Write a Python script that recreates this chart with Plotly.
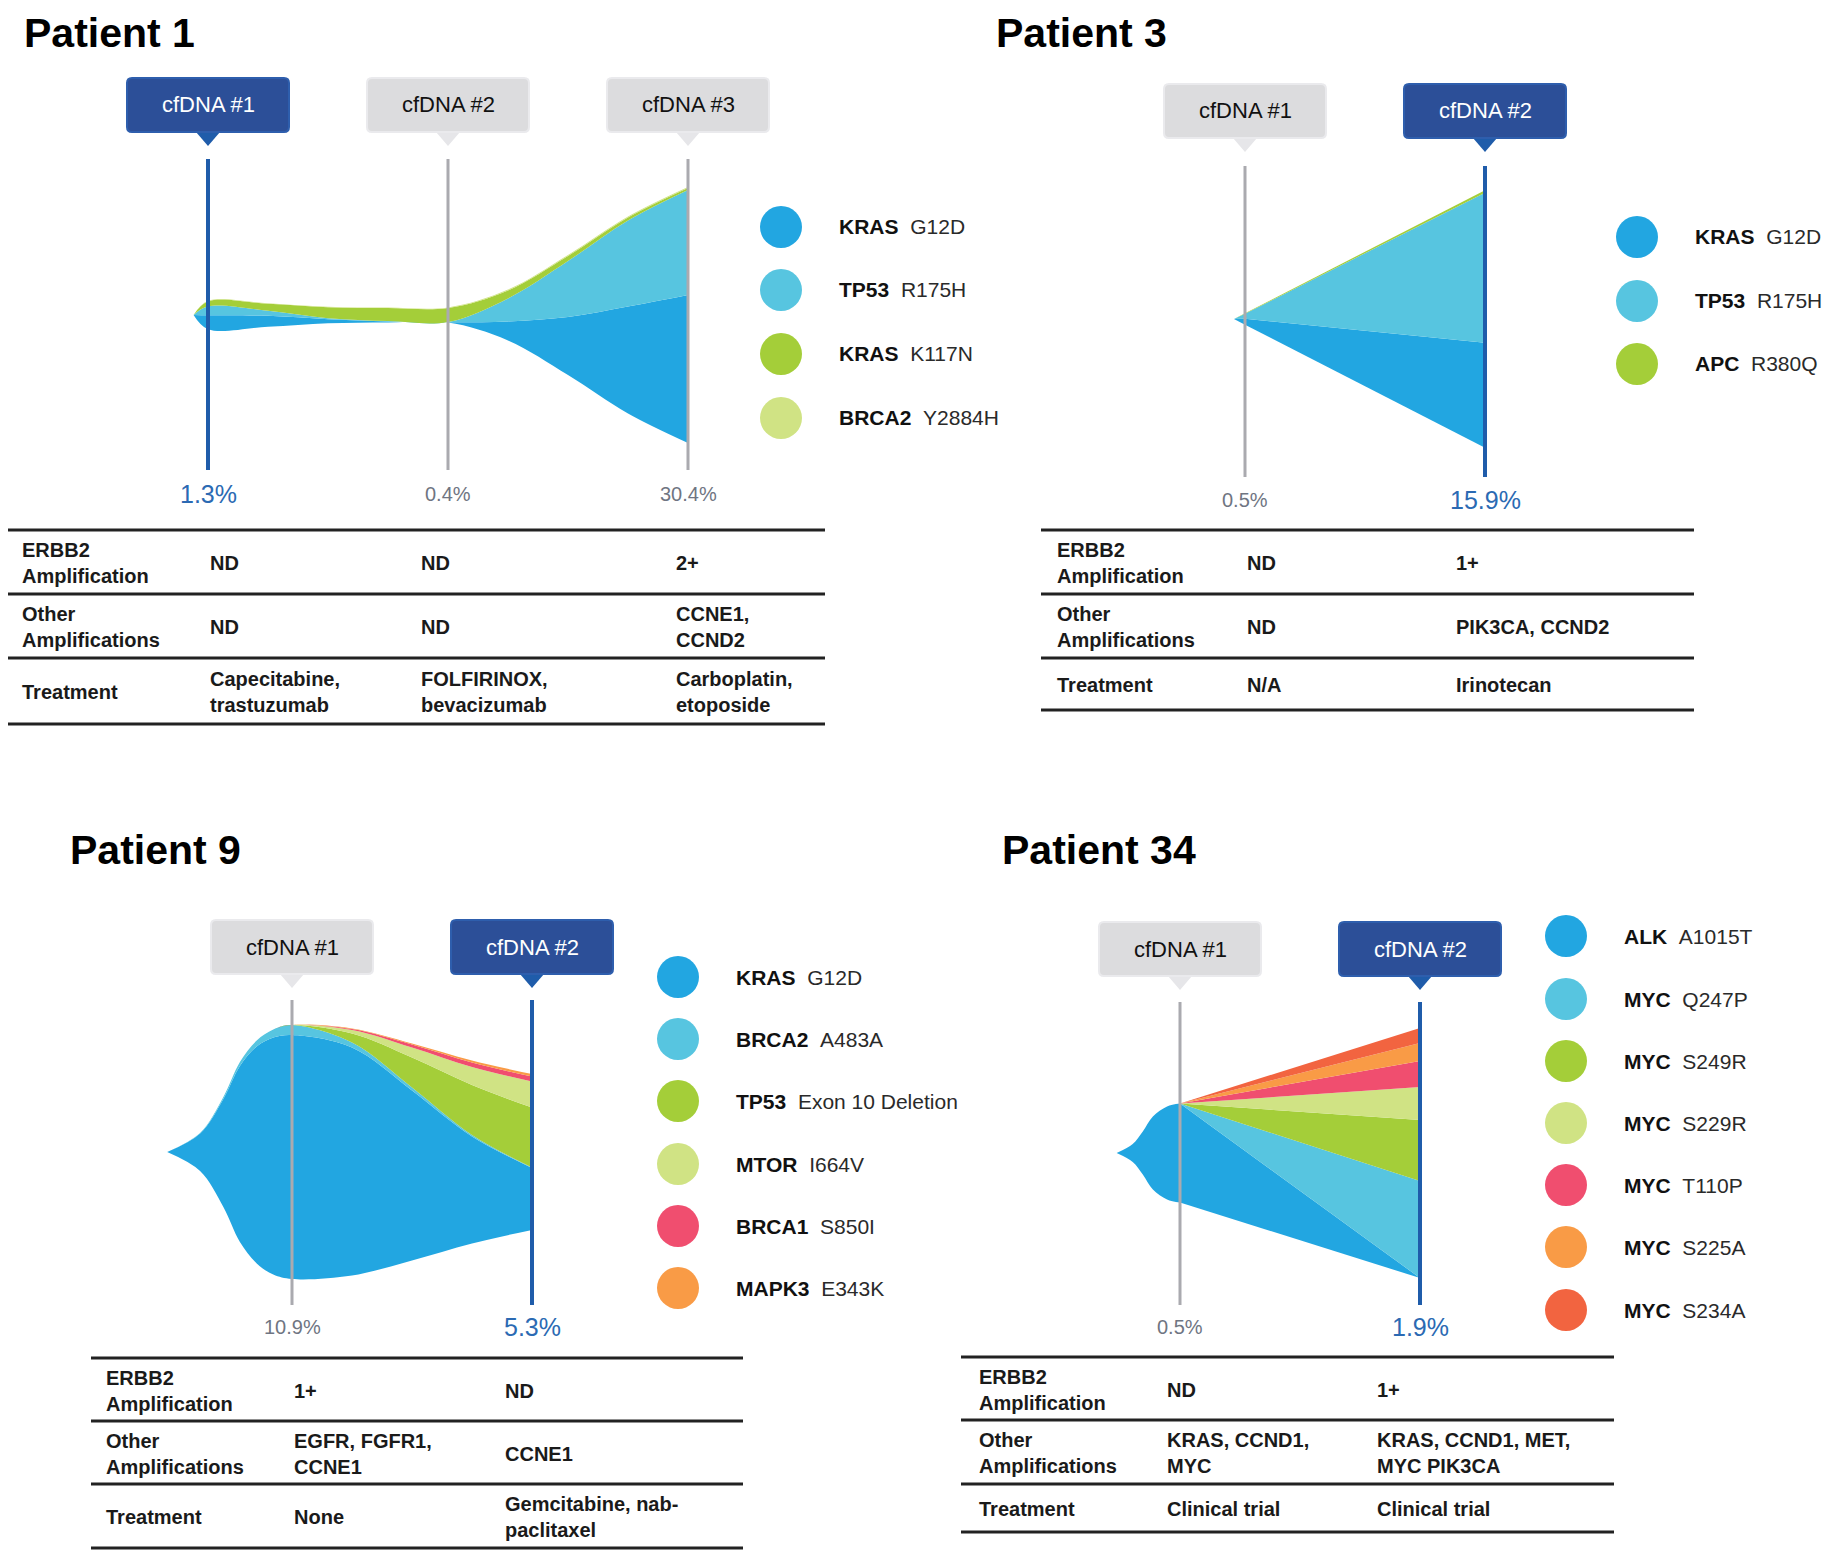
import plotly.graph_objects as go

W, H = 1834, 1553
PAGE = 8  # the html page puts the figure 8 px in from the top-left corner
FIG_W, FIG_H = W - PAGE, H - PAGE
STEP = 240  # pixels between two cfDNA draws
FONT = "Liberation Sans, Arial, Helvetica, sans-serif"

BLUE = "#22A6E1"
LBLUE = "#57C5E0"
GREEN = "#A4CE39"
LGREEN = "#D0E384"
PINK = "#F04E6F"
ORANGE = "#F99B46"
RED = "#F26440"
NAVY = "#2C4F98"
NAVY_EDGE = "#2E5EAD"
NAVY_LINE = "#1F5CAA"
GREY_BOX = "#DCDCDE"
GREY_EDGE = "#EAEAED"
GREY_LINE = "#AAAAAF"
PCT_BLUE = "#2B6AB3"
PCT_GREY = "#6F7582"
INK = "#1A1A1A"

ROW_LABELS = ["ERBB2<br>Amplification", "Other<br>Amplifications", "Treatment"]

# ---------------- Patient 1 ----------------
# band thickness at sample positions (1 unit = one draw)
P1_SAMPLES = [-0.06, 0, 0.25, 0.5, 0.75, 1, 1.25, 1.5, 1.75, 2]
P1_KRAS_G12D = [0, 14, 11, 4, 1, 0.3, 19, 58, 107, 148]
P1_TP53_R175H = [0, 9, 5, 1, 0.3, 0.2, 23, 56, 86, 105]
P1_KRAS_K117N = [0, 5, 7, 11, 13, 14, 8, 5, 3, 2]
P1_BRCA2_Y2884H = [0, 0.6, 0.6, 0.5, 0.5, 0.5, 0.8, 1, 1, 1]
P1_GENES = ["KRAS", "TP53", "KRAS", "BRCA2"]
P1_MUTS = ["G12D", "R175H", "K117N", "Y2884H"]
P1_DRAWS = ["cfDNA #1", "cfDNA #2", "cfDNA #3"]
P1_PCT = ["1.3%", "0.4%", "30.4%"]
P1_ERBB2 = ["ND", "ND", "2+"]
P1_OTHER = ["ND", "ND", "CCNE1,<br>CCND2"]
P1_TREAT = ["Capecitabine,<br>trastuzumab", "FOLFIRINOX,<br>bevacizumab", "Carboplatin,<br>etoposide"]

# ---------------- Patient 3 ----------------
P3_SAMPLES = [-0.046, 0, 1]
P3_KRAS_G12D = [0, 6, 105]
P3_TP53_R175H = [0, 5, 150]
P3_APC_R380Q = [0, 0.5, 2.5]
P3_GENES = ["KRAS", "TP53", "APC"]
P3_MUTS = ["G12D", "R175H", "R380Q"]
P3_DRAWS = ["cfDNA #1", "cfDNA #2"]
P3_PCT = ["0.5%", "15.9%"]
P3_ERBB2 = ["ND", "1+"]
P3_OTHER = ["ND", "PIK3CA, CCND2"]
P3_TREAT = ["N/A", "Irinotecan"]

# ---------------- Patient 9 ----------------
P9_SAMPLES = [-0.52, -0.383, -0.286, -0.217, -0.147, -0.078, 0, 0.25, 0.5, 0.75, 1]
P9_KRAS_G12D = [0, 37.5, 108, 176, 217, 237, 244, 228, 170, 107, 62]
P9_BRCA2_A483A = [0, 0.5, 2, 4, 6, 8, 10, 5, 3, 1.5, 0.3]
P9_TP53_EX10 = [0, 0, 0, 0, 0, 0, 0, 9, 30, 50, 60]
P9_MTOR_I664V = [0, 0, 0, 0, 0, 0, 0, 3.5, 10, 18, 26]
P9_BRCA1_S850I = [0, 0, 0, 0, 0, 0, 0, 1, 3, 4.5, 5]
P9_MAPK3_E343K = [0, 0, 0, 0, 0, 0, 0, 0.5, 1, 2, 2.5]
P9_GENES = ["KRAS", "BRCA2", "TP53", "MTOR", "BRCA1", "MAPK3"]
P9_MUTS = ["G12D", "A483A", "Exon 10 Deletion", "I664V", "S850I", "E343K"]
P9_DRAWS = ["cfDNA #1", "cfDNA #2"]
P9_PCT = ["10.9%", "5.3%"]
P9_ERBB2 = ["1+", "ND"]
P9_OTHER = ["EGFR, FGFR1,<br>CCNE1", "CCNE1"]
P9_TREAT = ["None", "Gemcitabine, nab-<br>paclitaxel"]

# ---------------- Patient 34 ----------------
P34_SAMPLES = [-0.264, -0.197, -0.155, -0.113, -0.054, 0, 1]
P34_ALK_A1015T = [0, 18, 43, 73, 93, 99, 0]
P34_MYC_Q247P = [0, 0, 0, 0, 0, 0, 97]
P34_MYC_S249R = [0, 0, 0, 0, 0, 0, 61]
P34_MYC_S229R = [0, 0, 0, 0, 0, 0, 33]
P34_MYC_T110P = [0, 0, 0, 0, 0, 0, 26]
P34_MYC_S225A = [0, 0, 0, 0, 0, 0, 18]
P34_MYC_S234A = [0, 0, 0, 0, 0, 0, 15]
P34_GENES = ["ALK", "MYC", "MYC", "MYC", "MYC", "MYC", "MYC"]
P34_MUTS = ["A1015T", "Q247P", "S249R", "S229R", "T110P", "S225A", "S234A"]
P34_DRAWS = ["cfDNA #1", "cfDNA #2"]
P34_PCT = ["0.5%", "1.9%"]
P34_ERBB2 = ["ND", "1+"]
P34_OTHER = ["KRAS, CCND1,<br>MYC", "KRAS, CCND1, MET,<br>MYC PIK3CA"]
P34_TREAT = ["Clinical trial", "Clinical trial"]


panels = [
    dict(title="Patient 1", title_xy=(22, 8, "top"),
         samples=P1_SAMPLES,
         bands=[P1_KRAS_G12D, P1_TP53_R175H, P1_KRAS_K117N, P1_BRCA2_Y2884H],
         colors=[BLUE, LBLUE, GREEN, LGREEN], genes=P1_GENES, muts=P1_MUTS,
         draws=P1_DRAWS, pct=P1_PCT, active=0, linear_from=None,
         t0=208, cy=315, box_y=105, line_y=(159, 470), pct_y=494,
         legend_x=781, legend_y=[227, 290, 354, 418],
         area=(PAGE, 917, 55, 520),
         table=dict(x=(6, 825), lines=[530, 594, 658, 724], label_x=20,
                    col_x=[208, 419, 674], cells=[P1_ERBB2, P1_OTHER, P1_TREAT])),
    dict(title="Patient 3", title_xy=(994, 8, "top"),
         samples=P3_SAMPLES,
         bands=[P3_KRAS_G12D, P3_TP53_R175H, P3_APC_R380Q],
         colors=[BLUE, LBLUE, GREEN], genes=P3_GENES, muts=P3_MUTS,
         draws=P3_DRAWS, pct=P3_PCT, active=1, linear_from=0,
         t0=1245, cy=319, box_y=111, line_y=(166, 477), pct_y=500,
         legend_x=1637, legend_y=[237, 301, 364],
         area=(1000, W - 10, 55, 520),
         table=dict(x=(1041, 1694), lines=[530, 594, 658, 710], label_x=1055,
                    col_x=[1245, 1454], cells=[P3_ERBB2, P3_OTHER, P3_TREAT])),
    dict(title="Patient 9", title_xy=(68, 850, "middle"),
         samples=P9_SAMPLES,
         bands=[P9_KRAS_G12D, P9_BRCA2_A483A, P9_TP53_EX10, P9_MTOR_I664V,
                P9_BRCA1_S850I, P9_MAPK3_E343K],
         colors=[BLUE, LBLUE, GREEN, LGREEN, PINK, ORANGE], genes=P9_GENES, muts=P9_MUTS,
         draws=P9_DRAWS, pct=P9_PCT, active=1, linear_from=None,
         t0=292, cy=1152, box_y=947, line_y=(1000, 1305), pct_y=1327,
         legend_x=678, legend_y=[977, 1039, 1101, 1164, 1226, 1288],
         area=(60, 917, 900, 1345),
         table=dict(x=(91, 743), lines=[1358, 1421, 1484, 1548], label_x=104,
                    col_x=[292, 503], cells=[P9_ERBB2, P9_OTHER, P9_TREAT])),
    dict(title="Patient 34", title_xy=(1000, 850, "middle"),
         samples=P34_SAMPLES,
         bands=[P34_ALK_A1015T, P34_MYC_Q247P, P34_MYC_S249R, P34_MYC_S229R,
                P34_MYC_T110P, P34_MYC_S225A, P34_MYC_S234A],
         colors=[BLUE, LBLUE, GREEN, LGREEN, PINK, ORANGE, RED], genes=P34_GENES, muts=P34_MUTS,
         draws=P34_DRAWS, pct=P34_PCT, active=1, linear_from=5,
         t0=1180, cy=1153, box_y=949, line_y=(1002, 1305), pct_y=1327,
         legend_x=1566, legend_y=[936, 999, 1061, 1123, 1185, 1247, 1310],
         area=(1000, W - 10, 900, 1345),
         table=dict(x=(961, 1614), lines=[1357, 1420, 1484, 1532], label_x=977,
                    col_x=[1165, 1375], cells=[P34_ERBB2, P34_OTHER, P34_TREAT])),
]


def px(x):
    return (x - PAGE) / FIG_W


def py(y):
    return 1 - (y - PAGE) / FIG_H


def rounded_box(w, h, r):
    a, b = w / 2, h / 2
    return (f"M {-a + r},{b} L {a - r},{b} Q {a},{b} {a},{b - r} "
            f"L {a},{-b + r} Q {a},{-b} {a - r},{-b} L {-a + r},{-b} "
            f"Q {-a},{-b} {-a},{-b + r} L {-a},{b - r} Q {-a},{b} {-a + r},{b} Z")


def stream_traces(p, xa, ya):
    xs = p["samples"]
    bands = p["bands"]
    n = len(xs)
    total = [sum(b[i] for b in bands) for i in range(n)]
    edges = [[-t / 2 for t in total]]
    for b in bands:
        edges.append([e + v for e, v in zip(edges[-1], b)])
    k = p["linear_from"]
    if k is None:
        parts = [(0, n, "spline")]
    elif k == 0:
        parts = [(0, n, "linear")]
    else:
        parts = [(0, k + 1, "spline"), (k, n, "linear")]
    out = []
    for lo, hi, shape in parts:
        for j, edge in enumerate(edges):
            out.append(go.Scatter(
                x=xs[lo:hi], y=edge[lo:hi], mode="lines",
                line=dict(width=0, shape=shape, smoothing=1.0),
                fill="tonexty" if j else "none",
                fillcolor=p["colors"][j - 1] if j else None,
                xaxis=xa, yaxis=ya, hoverinfo="skip", showlegend=False))
    return out


fig = go.Figure()
shapes, annotations = [], []
BOX_W, BOX_H = 162, 54

for i, p in enumerate(panels, start=1):
    xa = "x" if i == 1 else f"x{i}"
    ya = "y" if i == 1 else f"y{i}"
    t0, cy = p["t0"], p["cy"]
    L, R, T, B = p["area"]

    def dx(v, t0=t0):
        return (v - t0) / STEP

    def dy(v, cy=cy):
        return cy - v

    fig.update_layout(**{
        ("xaxis" if i == 1 else f"xaxis{i}"): dict(
            domain=[px(L), px(R)], range=[dx(L), dx(R)], visible=False,
            fixedrange=True, anchor=ya),
        ("yaxis" if i == 1 else f"yaxis{i}"): dict(
            domain=[py(B), py(T)], range=[dy(B), dy(T)], visible=False,
            fixedrange=True, anchor=xa),
    })

    for tr in stream_traces(p, xa, ya):
        fig.add_trace(tr)

    # legend dots
    fig.add_trace(go.Scatter(
        x=[dx(p["legend_x"])] * len(p["genes"]), y=[dy(v) for v in p["legend_y"]],
        mode="markers", marker=dict(size=42, color=p["colors"], line=dict(width=0)),
        xaxis=xa, yaxis=ya, hoverinfo="skip", showlegend=False))
    for g, m, yv in zip(p["genes"], p["muts"], p["legend_y"]):
        annotations.append(dict(
            x=dx(p["legend_x"] + 56), y=dy(yv), xref=xa, yref=ya,
            text=f"<b>{g}</b>\u00a0\u00a0<span style='color:#2a2a2a'>{m}</span>",
            showarrow=False, xanchor="left", yanchor="middle",
            font=dict(family=FONT, size=21, color="#111111")))

    # cfDNA callouts, draw lines and percentages
    box_c = dy(p["box_y"])
    for k, (lab, pct) in enumerate(zip(p["draws"], p["pct"])):
        act = k == p["active"]
        shapes.append(dict(
            type="path", xref=xa, yref=ya, xsizemode="pixel", ysizemode="pixel",
            xanchor=k, yanchor=box_c,
            path=f"M -12,{-BOX_H / 2} L 0,{-BOX_H / 2 - 14} L 12,{-BOX_H / 2} Z",
            fillcolor=NAVY_LINE if act else "#E6E6E9", line=dict(width=0)))
        shapes.append(dict(
            type="path", xref=xa, yref=ya, xsizemode="pixel", ysizemode="pixel",
            xanchor=k, yanchor=box_c, path=rounded_box(BOX_W, BOX_H, 5),
            fillcolor=NAVY if act else GREY_BOX,
            line=dict(width=2, color=NAVY_EDGE if act else GREY_EDGE)))
        annotations.append(dict(
            x=k, y=box_c, xref=xa, yref=ya, text=lab, showarrow=False,
            xanchor="center", yanchor="middle",
            font=dict(family=FONT, size=22, color="white" if act else "#111111")))
        shapes.append(dict(
            type="line", xref=xa, yref=ya, x0=k, x1=k,
            y0=dy(p["line_y"][0]), y1=dy(p["line_y"][1]),
            line=dict(width=4 if act else 3, color=NAVY_LINE if act else GREY_LINE)))
        annotations.append(dict(
            x=k, y=dy(p["pct_y"]), xref=xa, yref=ya, text=pct, showarrow=False,
            xanchor="center", yanchor="middle",
            font=dict(family=FONT, size=25 if act else 20,
                      color=PCT_BLUE if act else PCT_GREY)))

    # title
    tx, ty, tanchor = p["title_xy"]
    annotations.append(dict(
        x=px(tx), y=py(ty), xref="paper", yref="paper",
        text=f"<b>{p['title']}</b>", showarrow=False, xanchor="left", yanchor=tanchor,
        font=dict(family=FONT, size=41, color="#000000")))

    # table
    tb = p["table"]
    for yl in tb["lines"]:
        shapes.append(dict(
            type="line", xref="paper", yref="paper",
            x0=px(tb["x"][0]), x1=px(tb["x"][1]), y0=py(yl), y1=py(yl),
            line=dict(width=3, color="#222222")))
    for r, (lab, row) in enumerate(zip(ROW_LABELS, tb["cells"])):
        yc = (tb["lines"][r] + tb["lines"][r + 1]) / 2 + 1
        annotations.append(dict(
            x=px(tb["label_x"]), y=py(yc), xref="paper", yref="paper",
            text=f"<b>{lab}</b>", showarrow=False, xanchor="left", yanchor="middle",
            align="left", font=dict(family=FONT, size=20, color=INK)))
        for cx, val in zip(tb["col_x"], row):
            annotations.append(dict(
                x=px(cx), y=py(yc), xref="paper", yref="paper",
                text=f"<b>{val}</b>", showarrow=False, xanchor="left", yanchor="middle",
                align="left", font=dict(family=FONT, size=20, color=INK)))

fig.update_layout(
    width=FIG_W, height=FIG_H, margin=dict(l=0, r=0, t=0, b=0),
    paper_bgcolor="white", plot_bgcolor="rgba(0,0,0,0)",
    showlegend=False, shapes=shapes, annotations=annotations,
    font=dict(family=FONT),
)

fig.write_html("out.html", config={"displayModeBar": False})
